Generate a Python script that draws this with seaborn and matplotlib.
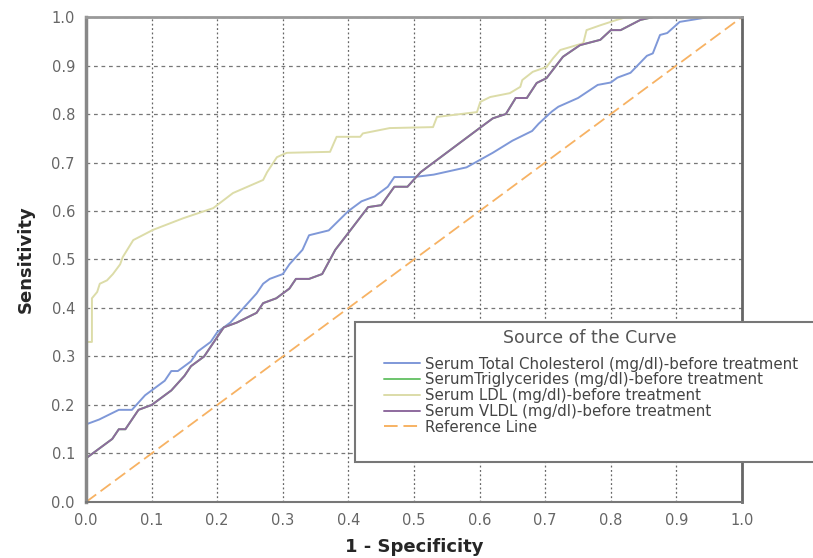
import matplotlib
matplotlib.use("Agg")
import matplotlib.pyplot as plt
import seaborn as sns
import pandas as pd
from matplotlib.lines import Line2D
from matplotlib.patches import Rectangle

# ROC curve points (1 - specificity, sensitivity)
chol_x = [0.0, 0.02, 0.05, 0.07, 0.09, 0.10, 0.12, 0.13, 0.14, 0.16, 0.17, 0.19, 0.20,
          0.22, 0.24, 0.26, 0.27, 0.28, 0.30, 0.31, 0.33, 0.34, 0.37, 0.40, 0.42, 0.44,
          0.46, 0.47, 0.50, 0.53, 0.58, 0.60, 0.62, 0.65, 0.68, 0.69, 0.71, 0.72, 0.75,
          0.78, 0.80, 0.81, 0.83, 0.855, 0.864, 0.875, 0.886, 0.905, 0.95, 1.0]
chol_y = [0.16, 0.17, 0.19, 0.19, 0.22, 0.23, 0.25, 0.27, 0.27, 0.29, 0.31, 0.33, 0.35,
          0.37, 0.40, 0.43, 0.45, 0.46, 0.47, 0.49, 0.52, 0.55, 0.56, 0.60, 0.62, 0.63,
          0.65, 0.67, 0.67, 0.675, 0.69, 0.705, 0.72, 0.745, 0.765, 0.78, 0.805, 0.815,
          0.833, 0.86, 0.865, 0.875, 0.885, 0.92, 0.925, 0.963, 0.967, 0.99, 1.0, 1.0]

vldl_x = [0.0, 0.02, 0.04, 0.05, 0.06, 0.07, 0.08, 0.10, 0.11, 0.13, 0.15, 0.16, 0.18,
          0.19, 0.20, 0.21, 0.23, 0.26, 0.27, 0.29, 0.30, 0.31, 0.32, 0.34, 0.36, 0.38,
          0.40, 0.43, 0.45, 0.47, 0.49, 0.51, 0.60, 0.62, 0.64, 0.655, 0.672, 0.687,
          0.702, 0.727, 0.753, 0.784, 0.80, 0.815, 0.845, 0.865, 1.0]
vldl_y = [0.09, 0.11, 0.13, 0.15, 0.15, 0.17, 0.19, 0.20, 0.21, 0.23, 0.26, 0.28, 0.30,
          0.32, 0.34, 0.36, 0.37, 0.39, 0.41, 0.42, 0.43, 0.44, 0.46, 0.46, 0.47, 0.52,
          0.555, 0.608, 0.612, 0.65, 0.65, 0.68, 0.771, 0.791, 0.80, 0.833, 0.833, 0.864,
          0.874, 0.918, 0.942, 0.953, 0.973, 0.973, 0.994, 1.0, 1.0]

# triglycerides curve coincides with VLDL (hidden under it)
tg_x = list(vldl_x)
tg_y = list(vldl_y)

ldl_x = [0.0, 0.009, 0.009, 0.017, 0.021, 0.032, 0.041, 0.052, 0.056, 0.072, 0.102,
         0.148, 0.194, 0.224, 0.270, 0.276, 0.291, 0.306, 0.372, 0.382, 0.418, 0.422,
         0.463, 0.529, 0.535, 0.596, 0.601, 0.616, 0.646, 0.662, 0.665, 0.681, 0.702,
         0.712, 0.723, 0.738, 0.758, 0.763, 0.784, 0.809, 0.824, 1.0]
ldl_y = [0.33, 0.33, 0.42, 0.433, 0.45, 0.457, 0.47, 0.49, 0.505, 0.54, 0.561,
         0.585, 0.606, 0.637, 0.664, 0.68, 0.711, 0.72, 0.722, 0.753, 0.753, 0.76,
         0.771, 0.773, 0.794, 0.804, 0.825, 0.835, 0.843, 0.856, 0.87, 0.887, 0.897,
         0.915, 0.932, 0.938, 0.946, 0.973, 0.983, 0.994, 1.0, 1.0]

ref_x = [0.0, 1.0]
ref_y = [0.0, 1.0]

labels = [
    "Serum Total Cholesterol (mg/dl)-before treatment",
    "SerumTriglycerides (mg/dl)-before treatment",
    "Serum LDL (mg/dl)-before treatment",
    "Serum VLDL (mg/dl)-before treatment",
    "Reference Line",
]
colors = ["#7f98d8", "#6cc46c", "#dcdca8", "#8e6a9e", "#f7b263"]
ticks = [0.0, 0.1, 0.2, 0.3, 0.4, 0.5, 0.6, 0.7, 0.8, 0.9, 1.0]

sns.set_style("white")
plt.rcParams["font.family"] = ["DejaVu Sans"]

fig = plt.figure(figsize=(8.13, 5.58), dpi=100)
ax = fig.add_axes([0.1058, 0.1004, 0.8069, 0.8691])

series = [(chol_x, chol_y), (tg_x, tg_y), (ldl_x, ldl_y), (vldl_x, vldl_y)]
for (xs, ys), lab, col in zip(series, labels[:4], colors[:4]):
    df = pd.DataFrame({"x": xs, "y": ys})
    sns.lineplot(data=df, x="x", y="y", ax=ax, color=col, lw=1.4,
                 sort=False, estimator=None, legend=False)
sns.lineplot(x=ref_x, y=ref_y, ax=ax, color=colors[4], lw=1.3,
             dashes=False, legend=False).lines[-1].set_dashes([7, 3])

ax.set_xlim(0, 1)
ax.set_ylim(0, 1)
ax.set_xticks(ticks)
ax.set_yticks(ticks)
ax.set_xticklabels([f"{t:.1f}" for t in ticks])
ax.set_yticklabels([f"{t:.1f}" for t in ticks])
ax.tick_params(axis="both", direction="out", length=5, width=1.5, color="#555555",
               labelsize=10.5, labelcolor="#666666", pad=3)
ax.xaxis.grid(True, linestyle=(0, (1.5, 2)), color="#666666", lw=0.9)
ax.yaxis.grid(True, linestyle=(0, (3, 3)), color="#777777", lw=0.9)
ax.set_axisbelow(True)
for side, w, c in [("left", 2.5, "#888888"), ("bottom", 1.5, "#777777"),
                   ("top", 2.0, "#999999"), ("right", 2.0, "#666666")]:
    ax.spines[side].set_linewidth(w)
    ax.spines[side].set_color(c)
    ax.spines[side].set_visible(True)

ax.set_xlabel("1 - Specificity", fontsize=13, fontweight="bold", labelpad=7)
ax.set_ylabel("Sensitivity", fontsize=13, fontweight="bold", labelpad=12)

# legend box runs off the right edge, as in the picture
fig.patches.append(Rectangle((355 / 813, 1 - 462 / 558), 480 / 813, 140 / 558,
                             transform=fig.transFigure, facecolor="white",
                             edgecolor="#777777", lw=1.5, zorder=5))
fig.text(590 / 813, 1 - 338 / 558, "Source of the Curve", fontsize=12.5,
         color="#555555", ha="center", va="center", zorder=7)
handles = [Line2D([], [], color=c, lw=1.4) for c in colors[:4]]
handles.append(Line2D([], [], color=colors[4], lw=1.4, dashes=[7, 3]))
leg = fig.legend(handles, labels, loc="upper left",
                 bbox_to_anchor=(370 / 813, 1 - 343 / 558), frameon=False,
                 fontsize=10.8, labelspacing=0.05, handlelength=2.4,
                 handletextpad=0.35, labelcolor="#444444")
leg.set_zorder(6)

fig.savefig("out.png", dpi=100)
